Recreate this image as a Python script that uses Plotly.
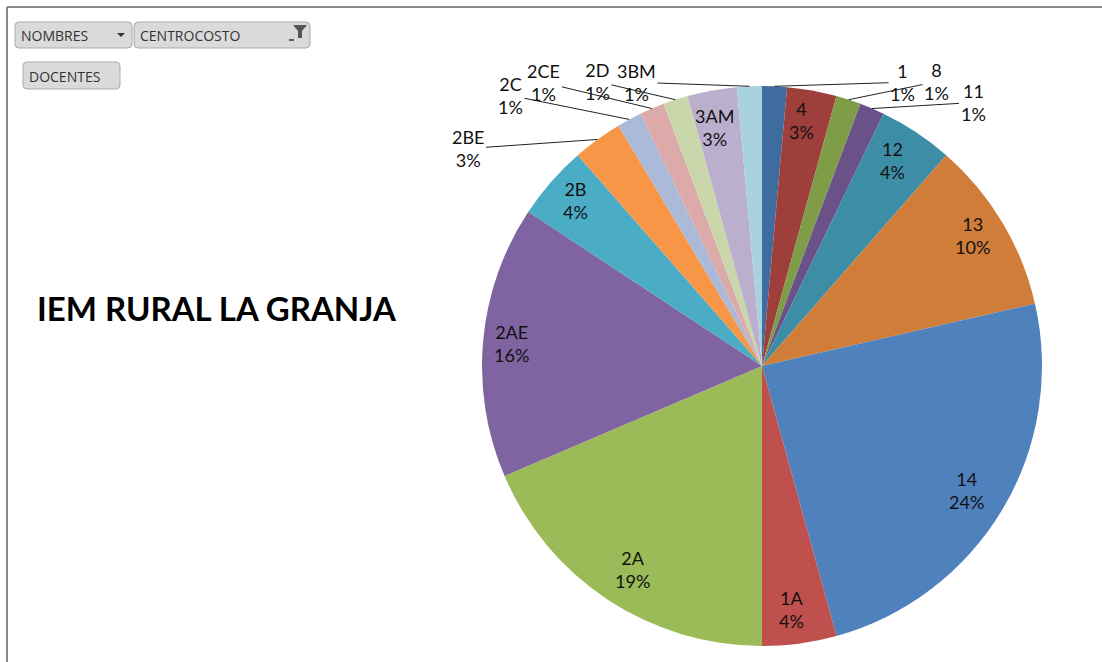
import math
import plotly.graph_objects as go

# ---- data ----
categories = ["1", "4", "8", "11", "12", "13", "14", "1A", "2A", "2AE",
              "2B", "2BE", "2C", "2CE", "2D", "3AM", "3BM"]
docentes = [1, 2, 1, 1, 3, 7, 17, 3, 13, 11, 3, 2, 1, 1, 1, 2, 1]
colors = ["#3F6C9F", "#9E3F3C", "#7F9D47", "#6A5188", "#3D8DA6", "#CF7D39",
          "#4F81BD", "#C0504D", "#9BBB59", "#8064A2", "#4BACC6", "#F79646",
          "#AABAD8", "#DCAAA9", "#C9D7AB", "#BAAFCC", "#A9D2DF"]
title_text = "IEM RURAL LA GRANJA"

# ---- layout constants (pixels) ----
W, H = 1102, 662
CX, CY, R = 762, 366, 280
FONT = "Lato"
LBL = 18

# labels drawn outside with leader lines: pixel offset of label from slice edge
outside_offsets = {
    "1": (128, -4), "8": (88, -18), "11": (101, -6),
    "2BE": (-129, 9), "2C": (-119, -24), "2CE": (-108, -26),
    "2D": (-78, -18), "3BM": (-113, -4),
}
inside_r = 0.885
inside_nudge = {"4": (-5, -2), "12": (-6, 1), "13": (-2, -3), "14": (-8, -3),
                "1A": (-4, -2), "2A": (7, -3), "2AE": (-4, 0), "2B": (0, -2),
                "3AM": (-3, 5)}

def px(x):
    return x / W

def py(y):
    return 1 - y / H

fig = go.Figure(go.Pie(
    labels=categories, values=docentes, sort=False, direction="clockwise",
    rotation=0, marker=dict(colors=colors, line=dict(width=0)),
    textinfo="none", hoverinfo="label+percent+value", showlegend=False,
    domain=dict(x=[px(CX - R), px(CX + R)], y=[py(CY + R), py(CY - R)]),
))

total = sum(docentes)
annotations = []
cum = 0
for cat, v in zip(categories, docentes):
    mid = (cum + v / 2) / total * 2 * math.pi
    cum += v
    pct = round(100 * v / total)
    txt = f"{cat}<br>{pct}%"
    if cat in outside_offsets:
        hx = CX + R * math.sin(mid)
        hy = CY - R * math.cos(mid)
        ax, ay = outside_offsets[cat]
        annotations.append(dict(
            x=px(hx), y=py(hy), xref="paper", yref="paper", text=txt,
            showarrow=True, arrowhead=0, arrowwidth=1, arrowcolor="#222",
            ax=ax, ay=ay, font=dict(family=FONT, size=LBL, color="#111"),
            align="center", standoff=0, xanchor="center", yanchor="middle"))
    else:
        nx, ny = inside_nudge.get(cat, (0, 0))
        lx = CX + inside_r * R * math.sin(mid) + nx
        ly = CY - inside_r * R * math.cos(mid) + ny
        annotations.append(dict(
            x=px(lx), y=py(ly), xref="paper", yref="paper", text=txt,
            showarrow=False, font=dict(family=FONT, size=LBL, color="#111"),
            align="center", xanchor="center", yanchor="middle"))

annotations.append(dict(
    x=px(217), y=py(308), xref="paper", yref="paper",
    text=f"<b>{title_text}</b>", showarrow=False, xanchor="center",
    yanchor="middle", font=dict(family=FONT, size=33, color="#000")))

# pivot field buttons
buttons = [("NOMBRES", 15, 22, 132, 48), ("CENTROCOSTO", 134, 22, 310, 48),
           ("DOCENTES", 23, 62, 120, 89)]
shapes = []

def rrect(x0, y0, x1, y1, r=4):
    return (f"M {px(x0 + r)} {py(y0)} L {px(x1 - r)} {py(y0)} "
            f"Q {px(x1)} {py(y0)} {px(x1)} {py(y0 + r)} L {px(x1)} {py(y1 - r)} "
            f"Q {px(x1)} {py(y1)} {px(x1 - r)} {py(y1)} L {px(x0 + r)} {py(y1)} "
            f"Q {px(x0)} {py(y1)} {px(x0)} {py(y1 - r)} L {px(x0)} {py(y0 + r)} "
            f"Q {px(x0)} {py(y0)} {px(x0 + r)} {py(y0)} Z")

for name, x0, y0, x1, y1 in buttons:
    shapes.append(dict(type="path", xref="paper", yref="paper",
                       path=rrect(x0, y0, x1, y1),
                       line=dict(color="#ABABAB", width=1),
                       fillcolor="#DADADA", layer="above"))
    annotations.append(dict(x=px(x0 + 4), y=py((y0 + y1) / 2 + 1), xref="paper",
                            yref="paper", text=name, showarrow=False,
                            xanchor="left", yanchor="middle",
                            font=dict(family="Open Sans", size=14, color="#333")))
# dropdown arrow on NOMBRES
shapes.append(dict(type="path", xref="paper", yref="paper",
                   path=f"M {px(117)} {py(33)} L {px(125)} {py(33)} L {px(121)} {py(37)} Z",
                   fillcolor="#333", line=dict(width=0)))
# filter icon on CENTROCOSTO
shapes.append(dict(type="path", xref="paper", yref="paper",
                   path=(f"M {px(293)} {py(25)} L {px(307)} {py(25)} L {px(302)} {py(31)} "
                         f"L {px(302)} {py(38)} L {px(298)} {py(38)} L {px(298)} {py(31)} Z"),
                   fillcolor="#555", line=dict(width=0)))
shapes.append(dict(type="line", xref="paper", yref="paper",
                   x0=px(289), x1=px(294), y0=py(40), y1=py(40),
                   line=dict(color="#333", width=1.5)))
# frame
shapes.append(dict(type="line", xref="paper", yref="paper", x0=px(7), x1=1,
                   y0=py(7), y1=py(7), line=dict(color="#888", width=2)))
shapes.append(dict(type="line", xref="paper", yref="paper", x0=px(7), x1=px(7),
                   y0=py(7), y1=0, line=dict(color="#888", width=2)))

fig.update_layout(
    width=W, height=H, margin=dict(l=0, r=0, t=0, b=0),
    paper_bgcolor="white", plot_bgcolor="white",
    annotations=annotations, shapes=shapes,
)
fig.write_html("out.html", config={"displayModeBar": False},
               post_script="document.body.style.margin='0';document.body.style.overflow='hidden';")
